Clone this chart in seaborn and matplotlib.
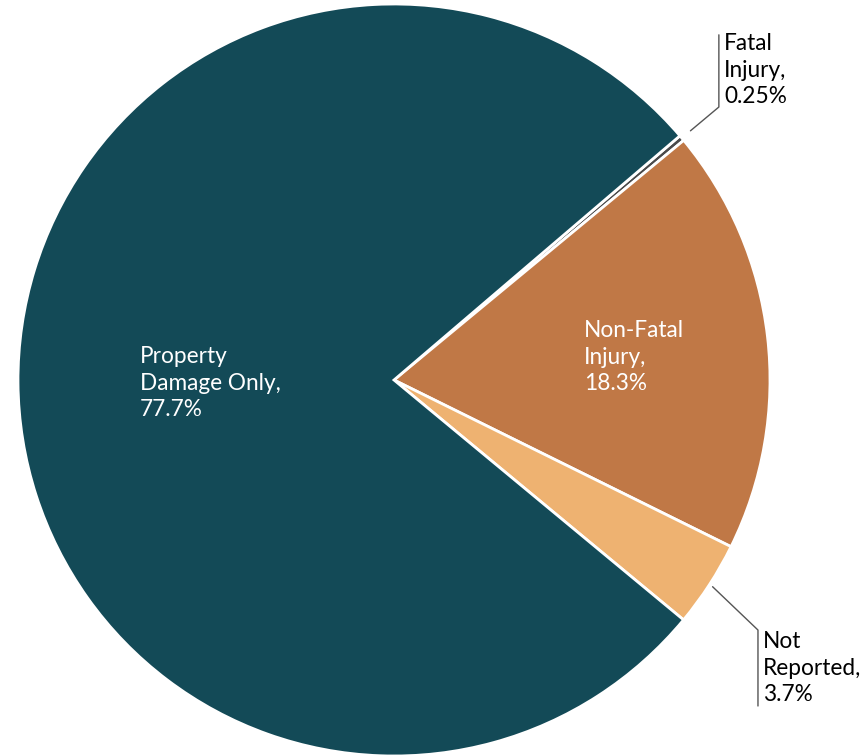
import numpy as np
import matplotlib
matplotlib.use("Agg")
import matplotlib.pyplot as plt
import seaborn as sns

categories = ["Fatal Injury", "Non-Fatal Injury", "Not Reported", "Property Damage Only"]
values = [0.25, 18.3, 3.7, 77.7]
label_texts = ["Fatal\nInjury,\n0.25%", "Non-Fatal\nInjury,\n18.3%", "Not\nReported,\n3.7%", "Property\nDamage Only,\n77.7%"]
colors = ["#4a4a4a", "#c07846", "#eeb271", "#134a57"]

sns.set_theme(style="white")
plt.rcParams['font.family'] = ['Lato', 'DejaVu Sans']

fig = plt.figure(figsize=(8.66, 7.56), dpi=100)
ax = fig.add_axes([18/866, 0/756, 752/866, 752/756])
wedges, _ = ax.pie(values, colors=colors, startangle=40.5, counterclock=False,
                   radius=1.0, wedgeprops=dict(edgecolor="white", linewidth=2))
ax.set_xlim(-1, 1)
ax.set_ylim(-1, 1)
ax.set_aspect("equal")
ax.axis("off")

fs = 16.3
ls = 1.32
# inside labels
ax.text(-0.676, -0.008, label_texts[3], color="white", fontsize=fs, ha="left", va="center", linespacing=ls)
ax.text(0.505, 0.061, label_texts[1], color="white", fontsize=fs, ha="left", va="center", linespacing=ls)

# outside labels with leader lines
def leader(w, r0, elbow, end_y, text, tx, ty):
    ang = np.deg2rad((w.theta1 + w.theta2) / 2)
    x0, y0 = r0 * np.cos(ang), r0 * np.sin(ang)
    ax.plot([x0, elbow[0], elbow[0]], [y0, elbow[1], end_y], color="#555555", lw=1, clip_on=False)
    ax.text(tx, ty, text, color="black", fontsize=fs, ha="left", va="center", linespacing=ls)

leader(wedges[0], 1.03, (0.864, 0.726), 0.918, label_texts[0], 0.878, 0.824)
leader(wedges[2], 1.01, (0.968, -0.665), -0.867, label_texts[2], 0.981, -0.766)

fig.savefig("out.png", dpi=100)
